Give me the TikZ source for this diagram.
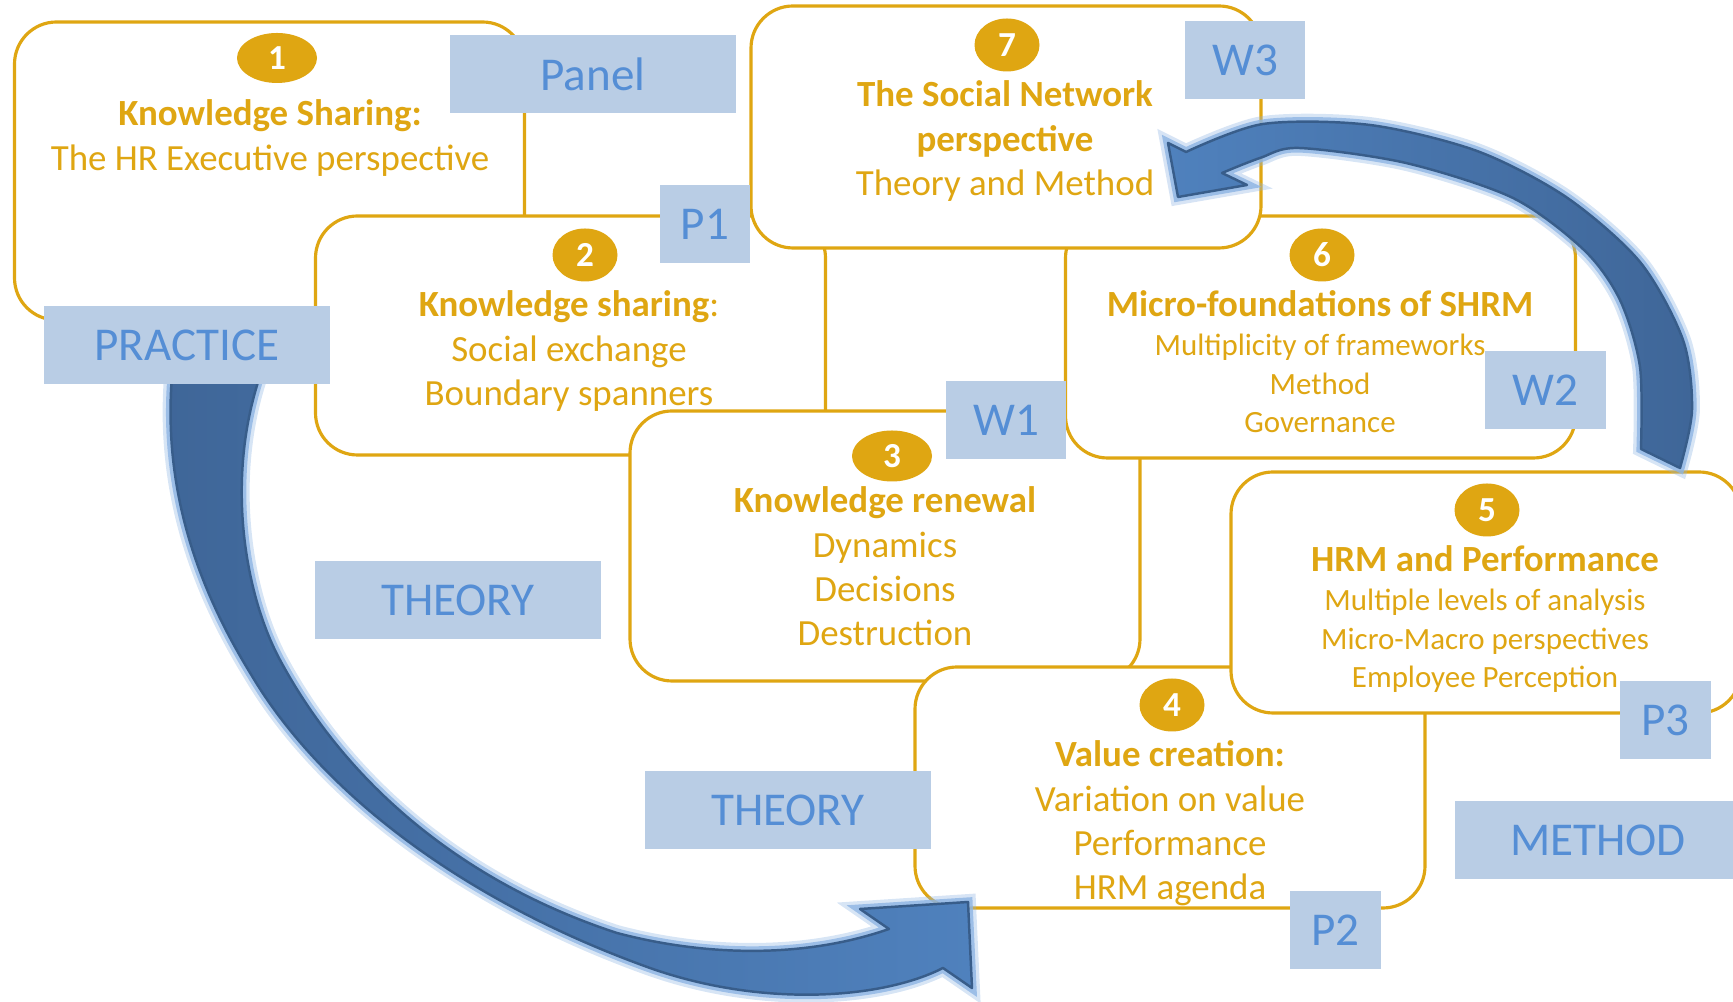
\documentclass[tikz,border=0pt]{standalone}
\usepackage{fontspec}
\setmainfont{Carlito}
\usetikzlibrary{shapes.geometric}
\setlength{\tabcolsep}{0pt}

\definecolor{gold}{RGB}{223,166,18}
\definecolor{tagfill}{RGB}{185,205,229}
\definecolor{tagtext}{RGB}{85,142,213}
\definecolor{arrowdark}{RGB}{63,102,152}
\definecolor{arrowlight}{RGB}{79,129,189}
\definecolor{arrowline}{RGB}{56,93,138}
\definecolor{arrowglow}{RGB}{141,180,227}

\begin{document}
\begin{tikzpicture}[x=0.1mm, y=-0.1mm,
  card/.style={draw=gold, fill=white, line width=0.9pt, rounded corners=4.2mm, minimum width=51mm},
  badge/.style={ellipse, fill=gold, text=white, inner sep=0pt, minimum width=6.5mm, minimum height=5.3mm,
    font=\fontsize{10}{12}\selectfont\bfseries},
  boxtext/.style={text=gold, anchor=base, inner sep=0pt, font=\fontsize{10.5}{12.6}\selectfont},
  smalltext/.style={text=gold, anchor=base, inner sep=0pt, font=\fontsize{8.8}{11}\selectfont},
  tag/.style={fill=tagfill, text=tagtext, inner sep=0pt, minimum height=7.8mm,
    font=\fontsize{13.4}{16}\selectfont},
  bigarrow/.style={draw=arrowline, line width=0.7pt, line join=round,
    preaction={draw=arrowglow, line width=4.5pt, opacity=0.35},
    preaction={draw=arrowglow, line width=2.6pt, opacity=0.8}}]

  \clip (0,0) rectangle (1733,1002);

  % Cards, back to front
  \node[card, minimum height=29.8mm] (box1) at (269.5,171) {};
  \node[card, minimum height=23.9mm] (box2) at (570.5,335.5) {};
  \node[card, minimum height=27mm] (box3) at (885,546) {};
  \node[card, minimum height=24.2mm] (box6) at (1320.5,337) {};
  \node[card, minimum height=24.2mm] (box7) at (1006,127) {};
  \node[card, minimum height=24.1mm] (box4) at (1170,787.5) {};
  \node[card, minimum height=24.1mm] (box5) at (1486,592.5) {};

  % Numbers
  \node[badge, minimum width=8mm, minimum height=5mm] (num1) at (277,58) {1};
  \node[badge] (num7) at (1007,45) {7};
  \node[badge] (num2) at (585,255) {2};
  \node[badge] (num6) at (1322,255) {6};
  \node[badge, minimum width=8mm, minimum height=5.1mm] (num3) at (892,456) {3};
  \node[badge] (num5) at (1487,510) {5};
  \node[badge] (num4) at (1172,705) {4};

  % Card texts
  \node[boxtext] (txt1) at (270,126) {\begin{tabular}[t]{c}
    \textbf{Knowledge Sharing:}\\ The HR Executive perspective\end{tabular}};
  \node[boxtext] (txt7) at (1005,107) {\begin{tabular}[t]{c}
    \textbf{The Social Network}\\ \textbf{perspective}\\ Theory and Method\end{tabular}};
  \node[boxtext] (txt2) at (569,317) {\begin{tabular}[t]{c}
    \textbf{Knowledge sharing}:\\ Social exchange\\ Boundary spanners\end{tabular}};
  \node[smalltext] (txt6) at (1320,317) {\begin{tabular}[t]{c}
    {\fontsize{10.5}{11}\selectfont\bfseries Micro-foundations of SHRM}\\
    Multiplicity of frameworks\\ Method\\ Governance\end{tabular}};
  \node[boxtext] (txt3) at (885,513) {\begin{tabular}[t]{c}
    \textbf{Knowledge renewal}\\ Dynamics\\ Decisions\\ Destruction\end{tabular}};
  \node[smalltext] (txt5) at (1485,572) {\begin{tabular}[t]{c}
    {\fontsize{10.5}{11}\selectfont\bfseries HRM and Performance}\\
    Multiple levels of analysis\\ Micro-Macro perspectives\\ Employee Perception\end{tabular}};
  \node[boxtext] (txt4) at (1170,767) {\begin{tabular}[t]{c}
    \textbf{Value creation:}\\ Variation on value\\ Performance\\ HRM agenda\end{tabular}};

  % Big curved arrows
  \path[bigarrow, left color=arrowdark, right color=arrowlight]
    (172,376) .. controls (162,500) and (205,600) .. (252,676)
    .. controls (320,790) and (460,900) .. (650,968)
    .. controls (760,1007) and (880,1000) .. (943,968)
    -- (972,988) -- (968,902) -- (860,909) -- (889,929)
    .. controls (800,960) and (700,955) .. (617,933)
    .. controls (470,885) and (350,790) .. (280,660)
    .. controls (245,595) and (225,480) .. (260,376)
    -- cycle;

  \path[bigarrow, left color=arrowlight, right color=arrowdark]
    plot[smooth, tension=0.5] coordinates {(1641,449) (1640,367) (1620,300) (1584,250) (1513,198)
      (1406,163) (1299,148) (1260,158) (1222,173)}
    -- (1247,185) -- (1178,197) -- (1168,143)
    -- plot[smooth, tension=0.5] coordinates {(1186,152) (1263,124) (1370,125) (1477,151) (1566,197)
      (1640,262) (1683,340) (1692,410) (1680,468)}
    -- cycle;

  % Tags
  \node[tag, minimum width=28.6mm] (panel) at (593,74.5) {Panel};
  \node[tag, minimum width=9mm] (p1) at (705,224.5) {P1};
  \node[tag, minimum width=12mm] (w3) at (1245,60) {W3};
  \node[tag, minimum width=28.6mm] (practice) at (187,345) {PRACTICE};
  \node[tag, minimum width=12mm] (w1) at (1006,420) {W1};
  \node[tag, minimum width=12.1mm] (w2) at (1545.5,390.5) {W2};
  \node[tag, minimum width=28.6mm] (theoryA) at (458,600) {THEORY};
  \node[tag, minimum width=28.6mm] (theoryB) at (788,810) {THEORY};
  \node[tag, minimum width=9.1mm] (p3) at (1665.5,720.5) {P3};
  \node[tag, minimum width=28.6mm] (method) at (1598,840) {METHOD};
  \node[tag, minimum width=9.1mm] (p2) at (1335.5,930.5) {P2};

\end{tikzpicture}
\end{document}
